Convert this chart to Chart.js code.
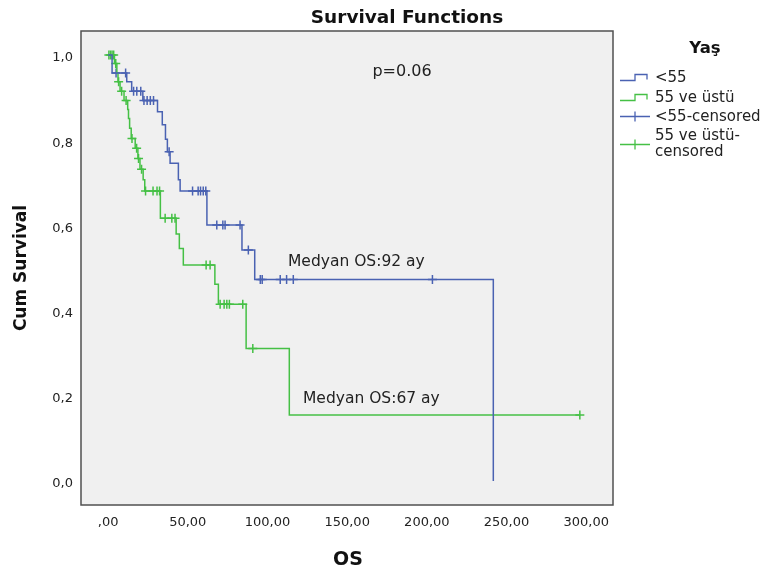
<!DOCTYPE html>
<html>
<head>
<meta charset="utf-8">
<script src="https://cdn.jsdelivr.net/npm/chart.js@4.4.1/dist/chart.umd.min.js"></script>
<style>
  html, body { margin: 0; padding: 0; background: #fff; }
  #wrap { width: 762px; height: 572px; }
</style>
</head>
<body>
<div id="wrap"><canvas id="km" width="762" height="572"></canvas></div>
<script>
// Kaplan-Meier steps: time of each drop and survival after it
const blueTimes = [0, 2.5, 11.7, 14.8, 21.8, 31, 34, 36, 37.2, 38.9, 44.1, 45.2, 62, 84, 92, 241.7];
const blueSurv  = [1, 0.958, 0.937, 0.915, 0.893, 0.867, 0.836, 0.802, 0.773, 0.746, 0.707, 0.681, 0.601, 0.542, 0.473, 0];
const blueCensT = [5, 11, 16, 18, 20.5, 22.5, 24.5, 26.5, 28.5, 38.3, 53, 56.5, 58, 59.7, 61.3,
                   68.2, 72, 73.4, 82.8, 88, 95.5, 96.7, 108, 112, 116.2, 203.5];

const greenTimes = [0, 4, 5.5, 6.2, 7.5, 10, 12.3, 12.8, 13.5, 14.5, 17, 18.7, 20, 22, 23,
                    32.8, 42.7, 44.7, 47.2, 67, 69.2, 86.6, 113.7];
const greenSurv  = [1, 0.98, 0.958, 0.937, 0.915, 0.893, 0.872, 0.851, 0.828, 0.804, 0.781, 0.757, 0.732, 0.707, 0.681,
                    0.617, 0.58, 0.546, 0.507, 0.462, 0.415, 0.311, 0.155];
const greenCensT = [0.5, 1.5, 2.5, 3.5, 4.8, 6.6, 8.5, 11.3, 15, 17.9, 19.1, 21, 23.5, 28.2, 30.7, 32.3,
                    35.8, 40, 42, 61.5, 64, 70.3, 72.8, 74.5, 76.1, 84.5, 90.8, 296];

const xTicks = [0, 50, 100, 150, 200, 250, 300];
const yTicks = [0, 0.2, 0.4, 0.6, 0.8, 1.0];

const BLUE = '#4a62b2';
const GREEN = '#45c045';
const FONT = '"DejaVu Sans", sans-serif';

function levelAt(times, surv, t) {
  let s = surv[0];
  for (let i = 0; i < times.length; i++) if (times[i] <= t) s = surv[i];
  return s;
}
function stepPoints(times, surv, endT) {
  const pts = times.map((t, i) => ({x: t, y: surv[i]}));
  if (endT !== undefined) pts.push({x: endT, y: surv[surv.length - 1]});
  return pts;
}
function censPoints(censT, times, surv) {
  return censT.map(t => ({x: t, y: levelAt(times, surv, t)}));
}

// plot background, frame, annotations and legend
const framePlugin = {
  id: 'frame',
  beforeDraw(chart) {
    const {ctx, chartArea: a} = chart;
    ctx.save();
    ctx.fillStyle = '#fff';
    ctx.fillRect(0, 0, chart.width, chart.height);
    ctx.fillStyle = '#f0f0f0';
    ctx.fillRect(a.left, a.top, a.right - a.left, a.bottom - a.top);
    ctx.restore();
  },
  afterDraw(chart) {
    const {ctx, chartArea: a} = chart;
    ctx.save();
    ctx.strokeStyle = '#505050';
    ctx.lineWidth = 1.5;
    ctx.strokeRect(a.left, a.top, a.right - a.left, a.bottom - a.top);

    ctx.fillStyle = '#111';
    ctx.textAlign = 'center';
    ctx.font = 'bold 18.5px ' + FONT;
    ctx.fillText('Survival Functions', 407, 23);
    ctx.font = 'bold 19px ' + FONT;
    ctx.fillText('OS', 348, 565);
    ctx.save();
    ctx.translate(22, 268);
    ctx.rotate(-Math.PI / 2);
    ctx.textBaseline = 'middle';
    ctx.font = 'bold 17px ' + FONT;
    ctx.fillText('Cum Survival', 0, 0);
    ctx.restore();

    ctx.fillStyle = '#222';
    ctx.font = '16px ' + FONT;
    ctx.fillText('p=0.06', 402, 76);
    ctx.textAlign = 'left';
    ctx.font = '15.5px ' + FONT;
    ctx.fillText('Medyan OS:92 ay', 288, 266);
    ctx.fillText('Medyan OS:67 ay', 303, 403);

    // legend
    ctx.fillStyle = '#111';
    ctx.textAlign = 'center';
    ctx.font = 'bold 16.5px ' + FONT;
    ctx.fillText('Yaş', 705, 53);
    ctx.lineWidth = 1.3;
    const step = (color, lo, hi) => {
      ctx.strokeStyle = color;
      ctx.beginPath();
      ctx.moveTo(620, lo); ctx.lineTo(635, lo); ctx.lineTo(635, hi);
      ctx.lineTo(647, hi); ctx.lineTo(647, lo - 1);
      ctx.stroke();
    };
    const cross = (color, y) => {
      ctx.strokeStyle = color;
      ctx.beginPath();
      ctx.moveTo(620, y); ctx.lineTo(650, y);
      ctx.moveTo(635, y - 5); ctx.lineTo(635, y + 5);
      ctx.stroke();
    };
    step(BLUE, 80.5, 74.5);
    step(GREEN, 100.5, 94.5);
    cross(BLUE, 116.5);
    cross(GREEN, 144.5);
    ctx.fillStyle = '#222';
    ctx.textAlign = 'left';
    ctx.font = '15px ' + FONT;
    ctx.fillText('<55', 655, 82);
    ctx.fillText('55 ve üstü', 655, 102);
    ctx.fillText('<55-censored', 655, 121);
    ctx.fillText('55 ve üstü-', 655, 140);
    ctx.fillText('censored', 655, 156);
    ctx.restore();
  }
};

const fmtX = v => v === 0 ? ',00' : v.toFixed(2).replace('.', ',');
const fmtY = v => v.toFixed(1).replace('.', ',');

new Chart(document.getElementById('km'), {
  type: 'scatter',
  data: {
    datasets: [
      {
        type: 'line', label: '<55',
        data: stepPoints(blueTimes, blueSurv),
        stepped: true, borderColor: BLUE, borderWidth: 1.5,
        pointRadius: 0, fill: false
      },
      {
        type: 'line', label: '55 ve üstü',
        data: stepPoints(greenTimes, greenSurv, Math.max(...greenCensT)),
        stepped: true, borderColor: GREEN, borderWidth: 1.5,
        pointRadius: 0, fill: false
      },
      {
        label: '<55-censored',
        data: censPoints(blueCensT, blueTimes, blueSurv),
        pointStyle: 'cross', pointRadius: 4.5, borderColor: BLUE, borderWidth: 1.5
      },
      {
        label: '55 ve üstü-censored',
        data: censPoints(greenCensT, greenTimes, greenSurv),
        pointStyle: 'cross', pointRadius: 4.5, borderColor: GREEN, borderWidth: 1.5
      }
    ]
  },
  options: {
    responsive: false,
    animation: false,
    layout: { padding: { top: 31, right: 149, left: 0, bottom: 0 } },
    plugins: { legend: { display: false }, tooltip: { enabled: false } },
    scales: {
      x: {
        type: 'linear', min: -17, max: 316.8,
        afterBuildTicks: s => { s.ticks = xTicks.map(v => ({value: v})); },
        afterFit: s => { s.height = 67; },
        grid: { display: false, drawTicks: false },
        border: { display: false },
        ticks: { callback: fmtX, font: { family: FONT, size: 13 }, color: '#222', padding: 10, maxRotation: 0 }
      },
      y: {
        type: 'linear', min: -0.0563, max: 1.0563,
        afterBuildTicks: s => { s.ticks = yTicks.map(v => ({value: v})); },
        afterFit: s => { s.width = 81; },
        grid: { display: false, drawTicks: false },
        border: { display: false },
        ticks: { callback: fmtY, font: { family: FONT, size: 13 }, color: '#222', padding: 8, labelOffset: 3 }
      }
    }
  },
  plugins: [framePlugin]
});
</script>
</body>
</html>
